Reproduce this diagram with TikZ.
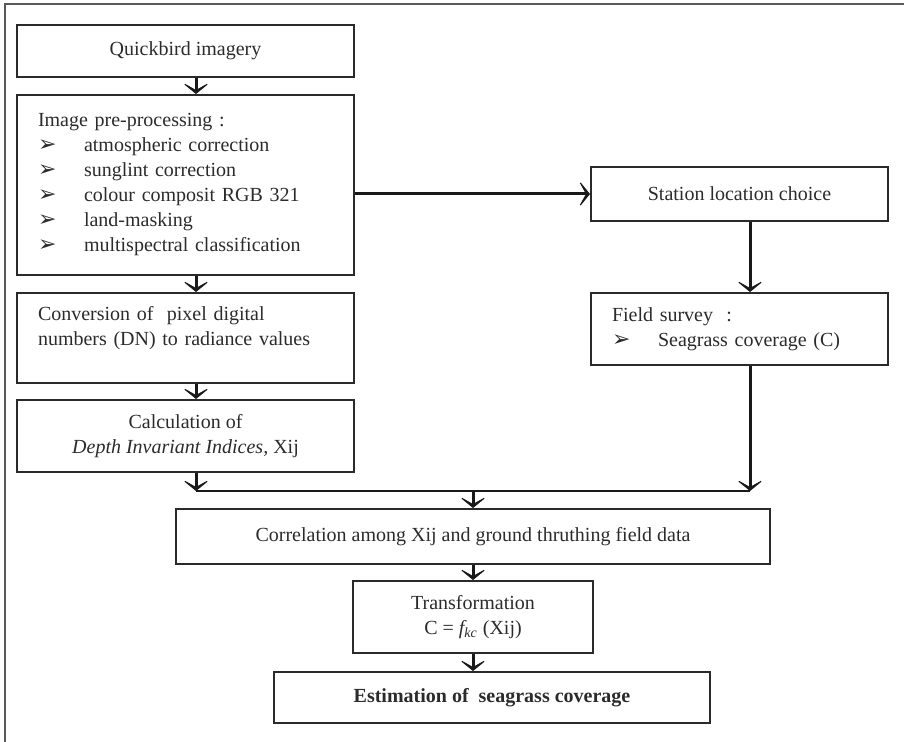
\documentclass[tikz,border=0pt]{standalone}
\usepackage{fontspec}
\setmainfont{Liberation Serif}
\newfontfamily\symfont{DejaVu Sans}
\usepackage{tikz}
\usetikzlibrary{positioning, arrows.meta, calc}

\definecolor{inkgray}{HTML}{2B2B2B}
\definecolor{boxgray}{HTML}{2A2A2A}

\tikzset{
    box/.style={draw=boxgray, line width=1pt, text=inkgray,
        font=\fontsize{10}{12.5}\selectfont, inner sep=0pt},
    centerbox/.style={box, align=center},
    leftbox/.style={box, align=left, inner xsep=10.5pt},
    flow/.style={draw=black!90, line width=1.5pt,
        -{Stealth[length=6.5pt, width=16pt, inset=4.5pt]}},
    bus/.style={draw=black!90, line width=1.3pt},
}
\newcommand{\itm}{\makebox[23pt][l]{\symfont\fontsize{11}{11}\selectfont ➢}}

\begin{document}
\begin{tikzpicture}[x=0.5pt, y=-0.5pt]
    \useasboundingbox (0,0) rectangle (904,742);

    % outer frame
    \draw[gray!70!black, line width=1pt] (5,742) -- (5,4) -- (904,4);

    % left column
    \node[centerbox, minimum width=168.5pt, minimum height=26pt] (qb) at (185.5,51)
        {Quickbird imagery};
    \node[leftbox, text width=147.5pt, minimum height=90pt] (pre) at (185.5,185)
        {Image pre-processing :\\
         \itm atmospheric correction\\
         \itm sunglint correction\\
         \itm colour composit RGB 321\\
         \itm land-masking\\
         \itm multispectral classification};
    \node[leftbox, text width=147.5pt, minimum height=45pt] (conv) at (185.5,338)
        {Conversion of\ \ pixel digital\\
         numbers (DN) to radiance values\\ \mbox{}};
    \node[centerbox, minimum width=168.5pt, minimum height=36pt] (calc) at (185.5,436)
        {Calculation of\\ \textit{Depth Invariant Indices,} Xij};

    % right column
    \node[centerbox, minimum width=148.5pt, minimum height=27pt] (station) at (739.5,194)
        {Station location choice};
    \node[leftbox, text width=127.5pt, minimum height=36pt] (field) at (739.5,329)
        {Field survey\ \ :\\
         \itm Seagrass coverage (C)};

    % bottom part
    \node[centerbox, minimum width=297pt, minimum height=27.5pt] (corr) at (473,536.5)
        {Correlation among Xij and ground thruthing field data};
    \node[centerbox, minimum width=120pt, minimum height=36pt] (trans) at (473,617)
        {Transformation\\ C = \textit{f\textsubscript{kc}} (Xij)};
    \node[centerbox, minimum width=218pt, minimum height=25.5pt] (est) at (492,697.5)
        {\textbf{Estimation of\ \ seagrass coverage}};

    % junctions
    \coordinate (colL) at (196,0);
    \coordinate (busL) at (196,491);
    \coordinate (busM) at (473,491);
    \coordinate (busR) at (750,491);
    \coordinate (colR) at (750,0);

    % arrows
    \draw[flow] (qb.south -| colL) -- (pre.north -| colL);
    \draw[flow] (pre.south -| colL) -- (conv.north -| colL);
    \draw[flow] (conv.south -| colL) -- (calc.north -| colL);
    \draw[flow] (calc.south -| colL) -- (busL);
    \draw[flow] (pre.east |- station.west) -- (station.west);
    \draw[flow] (station.south -| colR) -- (field.north -| colR);
    \draw[flow] (field.south -| colR) -- (busR);
    \draw[bus] (busL) -- (busR);
    \draw[flow] (busM) -- (corr.north);
    \draw[flow] (corr.south) -- (trans.north);
    \draw[flow] (trans.south) -- (est.north -| trans.south);
\end{tikzpicture}
\end{document}
